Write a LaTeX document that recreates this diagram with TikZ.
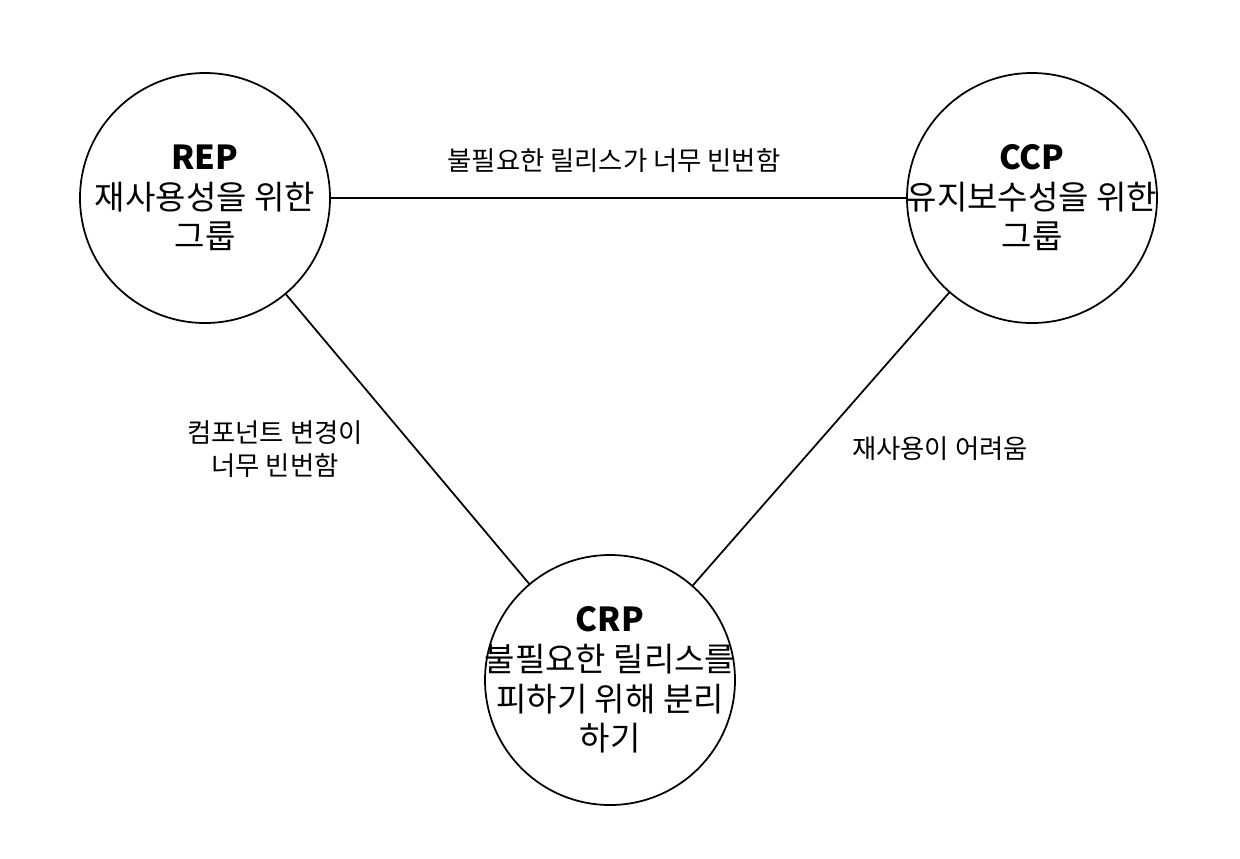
\documentclass[tikz,border=0pt]{standalone}
\usepackage{fontspec}
\setmainfont{Noto Sans CJK KR}

\begin{document}
\begin{tikzpicture}[shorten >=0pt,-]
  \tikzstyle{principle}=[circle,draw,line width=1pt,minimum size=5cm,inner sep=-0.7cm,align=center,font=\fontsize{18.8pt}{22.5pt}\selectfont]
  \tikzstyle{sidelabel}=[align=center,font=\fontsize{15pt}{19pt}\selectfont]

  \useasboundingbox (0,0) rectangle (24.8,-17.16);

  \node[principle] (REP) at (4.1,-3.96) {\textbf{REP}\\재사용성을 위한\\그룹};
  \node[principle] (CCP) at (20.64,-3.96) {\textbf{CCP}\\유지보수성을 위한\\그룹};
  \node[principle] (CRP) at (12.2,-13.6) {\textbf{CRP}\\불필요한 릴리스를\\피하기 위해 분리\\하기};

  \foreach \from/\to in {REP/CCP,REP/CRP,CCP/CRP}
    { \draw[line width=1pt] (\from) -- (\to);}

% 각 변의 설명
  \node[sidelabel] (lab-top) at (12.28,-3.22) {불필요한 릴리스가 너무 빈번함};
  \node[sidelabel] (lab-left) at (5.5,-8.98) {컴포넌트 변경이\\너무 빈번함};
  \node[sidelabel] (lab-right) at (18.8,-8.98) {재사용이 어려움};

\end{tikzpicture}
\end{document}
